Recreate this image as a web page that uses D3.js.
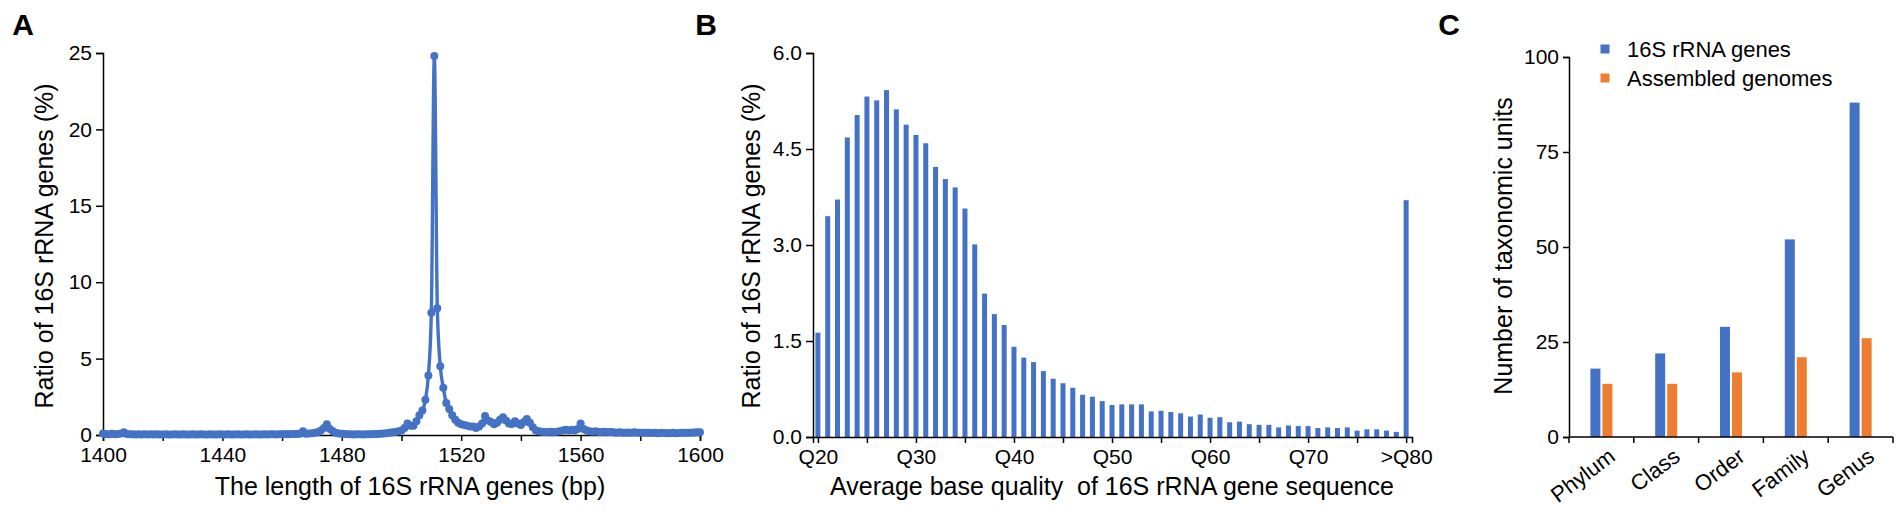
<!DOCTYPE html>
<html>
<head>
<meta charset="utf-8">
<script src="https://cdn.jsdelivr.net/npm/d3@7"></script>
<style>
  body { margin: 0; background: #fff; }
  svg { display: block; font-family: "Liberation Sans", Arial, Helvetica, sans-serif; }
  .axis path, .axis line { stroke: #000; stroke-width: 1.5; }
  .axis text { fill: #000; font-size: 21px; }
</style>
</head>
<body>
<div id="chart"></div>
<script>
// ---- data ----
// A: ratio (%) of 16S genes per length, 1400..1600 bp, one value per bp
const lengthStart = 1400;
const lengthRatio = [
  0.1,0.05,0.05,0.08,0.05,0.06,0.1,0.18,0.06,0.05,
  0.05,0.04,0.05,0.04,0.05,0.04,0.05,0.04,0.05,0.04,
  0.04,0.05,0.04,0.04,0.05,0.04,0.04,0.05,0.04,0.04,
  0.05,0.04,0.04,0.05,0.04,0.04,0.05,0.04,0.04,0.05,
  0.04,0.04,0.05,0.04,0.04,0.05,0.04,0.04,0.05,0.04,
  0.04,0.05,0.04,0.04,0.05,0.04,0.05,0.05,0.04,0.05,
  0.05,0.06,0.05,0.06,0.07,0.06,0.08,0.25,0.08,0.1,
  0.12,0.15,0.2,0.3,0.45,0.7,0.4,0.25,0.15,0.1,
  0.08,0.06,0.05,0.05,0.04,0.05,0.05,0.04,0.05,0.05,
  0.05,0.06,0.07,0.08,0.1,0.12,0.15,0.18,0.2,0.25,
  0.3,0.45,0.75,0.6,0.6,0.9,1.3,1.6,2.3,3.9,
  8.0,24.8,8.3,4.5,3.1,2.1,1.7,1.3,1.0,0.8,
  0.7,0.65,0.6,0.55,0.55,0.45,0.55,0.75,1.24,0.95,
  0.85,0.7,0.8,1.0,1.16,0.95,0.75,0.72,0.9,0.75,
  0.65,0.85,1.05,0.8,0.5,0.3,0.25,0.22,0.2,0.2,
  0.22,0.2,0.22,0.25,0.3,0.35,0.3,0.35,0.3,0.4,
  0.75,0.4,0.3,0.25,0.22,0.25,0.2,0.2,0.22,0.18,
  0.2,0.18,0.15,0.18,0.15,0.15,0.16,0.14,0.18,0.14,
  0.15,0.14,0.14,0.15,0.13,0.14,0.12,0.14,0.13,0.12,
  0.13,0.14,0.12,0.13,0.15,0.14,0.14,0.15,0.16,0.18,
  0.18
];
const lengthTicks = [1400,1420,1440,1460,1480,1500,1520,1540,1560,1580,1600];
const lengthTickLabels = ["1400","","1440","","1480","","1520","","1560","","1600"];

// B: ratio (%) per average base quality, Q20..Q79 and >Q80 (last)
const qualityStart = 20;
const qualityRatio = [
  1.63,3.45,3.71,4.68,5.03,5.32,5.26,5.42,5.12,4.88,
  4.72,4.59,4.22,4.03,3.90,3.57,3.01,2.24,1.92,1.75,
  1.41,1.24,1.17,1.03,0.91,0.84,0.77,0.66,0.63,0.56,
  0.50,0.51,0.51,0.51,0.40,0.41,0.39,0.37,0.32,0.35,
  0.30,0.31,0.23,0.24,0.20,0.19,0.19,0.15,0.18,0.17,
  0.17,0.14,0.15,0.14,0.15,0.10,0.12,0.12,0.10,0.08,
  3.70
];
const qualityTicks = [20,25,30,35,40,45,50,55,60,65,70,75,80];
const qualityTickLabels = ["Q20","","Q30","","Q40","","Q50","","Q60","","Q70","",">Q80"];
const ratioTicks = [0, 1.5, 3.0, 4.5, 6.0];

// C: number of taxonomic units
const taxLevels = ["Phylum","Class","Order","Family","Genus"];
const seriesNames = ["16S rRNA genes","Assembled genomes"];
const rrnaCounts = [18,22,29,52,88];
const genomeCounts = [14,14,17,21,26];
const countTicks = [0,25,50,75,100];

const blue = "#4472C4", orange = "#ED7D31";

// ---- svg ----
const W = 1904, H = 512;
const svg = d3.select("#chart").append("svg").attr("width", W).attr("height", H);

function panelLetter(x, t){
  svg.append("text").attr("x", x).attr("y", 35)
    .attr("text-anchor","middle").style("font-size","30px").style("font-weight","700")
    .text(t);
}
function yTitle(x, t){
  svg.append("text")
    .attr("transform", `translate(${x},246) rotate(-90)`)
    .attr("text-anchor","middle").style("font-size","25px")
    .text(t);
}
function xTitle(x, t){
  svg.append("text").attr("x", x).attr("y", 495)
    .attr("text-anchor","middle").style("font-size","25px")
    .style("white-space","pre")
    .text(t);
}

// ===== Panel A =====
{
  const x = d3.scaleLinear().domain([1400,1600]).range([103,700]);
  const y = d3.scaleLinear().domain([0,25]).range([435,53]);
  const pts = lengthRatio.map((v,i) => ({bp: lengthStart + i, v}));

  svg.append("g").attr("class","axis").attr("transform","translate(0,435)")
    .call(d3.axisBottom(x).tickValues(lengthTicks).tickSizeOuter(0).tickSize(6).tickPadding(6)
      .tickFormat((d,i) => lengthTickLabels[i]));
  svg.append("g").attr("class","axis").attr("transform","translate(103,0)")
    .call(d3.axisLeft(y).tickValues([0,5,10,15,20,25]).tickSizeOuter(0).tickSize(7).tickPadding(4));

  svg.append("path").datum(pts)
    .attr("fill","none").attr("stroke",blue).attr("stroke-width",3.4)
    .attr("stroke-linejoin","round")
    .attr("d", d3.line().curve(d3.curveMonotoneX).x(d => x(d.bp)).y(d => y(d.v)));
  svg.append("g").selectAll("circle").data(pts).enter().append("circle")
    .attr("cx", d => x(d.bp)).attr("cy", d => y(d.v)).attr("r", 4)
    .attr("fill", blue);

  panelLetter(23, "A");
  yTitle(53, "Ratio of 16S rRNA genes (%)");
  xTitle(410, "The length of 16S rRNA genes (bp)");
}

// ===== Panel B =====
{
  const x = d3.scaleLinear().domain([19.5,80.6]).range([813,1412]);
  const y = d3.scaleLinear().domain([0,6]).range([437,53]);
  const bars = qualityRatio.map((v,i) => ({q: qualityStart + i, v}));
  const bw = 5;

  svg.append("g").selectAll("rect").data(bars).enter().append("rect")
    .attr("x", d => x(d.q) - bw/2).attr("width", bw)
    .attr("y", d => y(d.v)).attr("height", d => y(0) - y(d.v))
    .attr("fill", blue);

  svg.append("g").attr("class","axis").attr("transform","translate(0,437)")
    .call(d3.axisBottom(x).tickValues(qualityTicks).tickSizeOuter(0).tickSize(6).tickPadding(6)
      .tickFormat((d,i) => qualityTickLabels[i]));
  svg.append("g").attr("class","axis").attr("transform","translate(813,0)")
    .call(d3.axisLeft(y).tickValues(ratioTicks).tickSizeOuter(0).tickSize(7).tickPadding(4)
      .tickFormat(d3.format(".1f")));

  panelLetter(706, "B");
  yTitle(760, "Ratio of 16S rRNA genes (%)");
  xTitle(1112, "Average base quality  of 16S rRNA gene sequence");
}

// ===== Panel C =====
{
  const x0 = d3.scaleBand().domain(taxLevels).range([1569,1893]);
  const x1 = d3.scaleBand().domain(seriesNames).range([0,22]).paddingInner(1/6);
  const y = d3.scaleLinear().domain([0,100]).range([437,57]);
  const color = d3.scaleOrdinal().domain(seriesNames).range([blue, orange]);
  const off = (x0.bandwidth() - 22) / 2;

  const rows = taxLevels.map((t,i) => ({t, vals: [rrnaCounts[i], genomeCounts[i]]}));
  svg.append("g").selectAll("g").data(rows).enter().append("g")
    .attr("transform", d => `translate(${x0(d.t) + off},0)`)
    .selectAll("rect").data(d => d.vals.map((v,j) => ({s: seriesNames[j], v})))
    .enter().append("rect")
    .attr("x", d => x1(d.s)).attr("width", x1.bandwidth())
    .attr("y", d => y(d.v)).attr("height", d => y(0) - y(d.v))
    .attr("fill", d => color(d.s));

  svg.append("g").attr("class","axis").attr("transform","translate(1569,0)")
    .call(d3.axisLeft(y).tickValues(countTicks).tickSizeOuter(0).tickSize(6).tickPadding(4));

  // x axis: line, ticks at band edges, rotated labels
  const gx = svg.append("g").attr("class","axis");
  gx.append("line").attr("x1",1569).attr("x2",1893).attr("y1",437).attr("y2",437);
  const edges = taxLevels.map(t => x0(t)).concat([x0.range()[1]]);
  gx.selectAll(".edge").data(edges).enter().append("line")
    .attr("x1", d => d).attr("x2", d => d).attr("y1",437).attr("y2",443);
  gx.selectAll(".cat").data(taxLevels).enter().append("text")
    .attr("transform", d => `translate(${x0(d) + x0.bandwidth()/2 + 6},447) rotate(-37)`)
    .attr("text-anchor","end").attr("dy","0.7em").style("font-size","22px")
    .text(d => d);

  // legend
  const lg = svg.append("g").selectAll("g").data(seriesNames).enter().append("g")
    .attr("transform", (d,i) => `translate(1605,${49 + i*29})`);
  lg.append("rect").attr("x",-4.5).attr("y",-4.5).attr("width",9).attr("height",9)
    .attr("fill", d => color(d));
  lg.append("text").attr("x",22).attr("dy","0.35em").style("font-size","22px").text(d => d);

  panelLetter(1449, "C");
  yTitle(1512, "Number of taxonomic units");
}
</script>
</body>
</html>
